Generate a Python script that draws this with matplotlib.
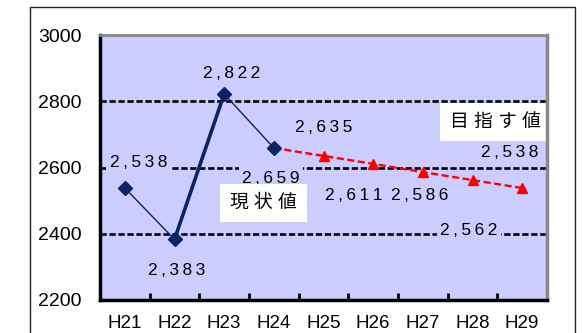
import numpy as np
import matplotlib.pyplot as plt
from matplotlib.patches import Rectangle

plt.rcParams['font.family'] = ['Liberation Sans', 'Noto Sans CJK JP', 'DejaVu Sans']

years = ['H21', 'H22', 'H23', 'H24', 'H25', 'H26', 'H27', 'H28', 'H29']
actual = [2538, 2383, 2822, 2659]
target_years = ['H24', 'H25', 'H26', 'H27', 'H28', 'H29']
target = [2659, 2635, 2611, 2586, 2562, 2538]
seg_widths = [1.0, 2.6, 1.0]

navy = '#0A2463'
bg = '#CCCCFF'


def spaced(v):
    # wide letter spacing like the original label font
    return '\u2009'.join(f'{v:,}')


fig = plt.figure(figsize=(5.82, 3.33), dpi=100)
fig.patches.append(Rectangle((30/582, -0.1), 545/582, 1.1 - 7/333, transform=fig.transFigure,
                             fill=False, edgecolor='#222222', lw=1.0))
ax = fig.add_axes([100/582, 1 - 300/333, 447/582, 265/333])
ax.set_facecolor(bg)

xi = {y: i + 0.5 for i, y in enumerate(years)}
ax.set_xlim(0, len(years))
ax.set_ylim(2200, 3000)

for g in [2400, 2600, 2800]:
    ax.axhline(g, color='black', lw=1.9, ls=(0, (2.4, 1.0)), zorder=1)

# actual values, segment by segment (different line weights)
ax_x = [xi[y] for y in years[:len(actual)]]
for k in range(len(actual) - 1):
    ax.plot(ax_x[k:k + 2], actual[k:k + 2], color=navy, lw=seg_widths[k], zorder=4)
ax.plot(ax_x, actual, ls='none', marker='D', ms=7.5, color=navy, zorder=5)

tx = [xi[y] for y in target_years]
ax.plot(tx, target, color='red', lw=1.7, ls=(0, (3, 1.5)), marker='^', ms=7.5,
        markevery=slice(1, None), zorder=3)

# data labels
lab_pos = {
    'H21': (0.77, 2614), 'H22': (1.55, 2288), 'H23': (2.66, 2885), 'H24': (3.44, 2568),
}
tlab_pos = {
    'H25': (4.51, 2722), 'H26': (5.11, 2514), 'H27': (6.44, 2514),
    'H28': (7.43, 2411), 'H29': (8.25, 2644),
}
for y, v in zip(years, actual):
    px, py = lab_pos[y]
    ax.text(px, py, spaced(v), ha='center', va='center', fontsize=12.5, zorder=2,
            bbox=dict(boxstyle='square,pad=0.2', fc=bg, ec='none'))
for y, v in zip(target_years[1:], target[1:]):
    px, py = tlab_pos[y]
    ax.text(px, py, spaced(v), ha='center', va='center', fontsize=12.5, zorder=2,
            bbox=dict(boxstyle='square,pad=0.2', fc=bg, ec='none'))

ax.text(7.96, 2737, '目 指 す 値', ha='center', va='center', fontsize=13.5, zorder=2,
        bbox=dict(boxstyle='square,pad=0.55', fc='white', ec='none'))
ax.text(3.29, 2493, '現 状 値', ha='center', va='center', fontsize=13.5, zorder=2,
        bbox=dict(boxstyle='square,pad=0.55', fc='white', ec='none'))

ax.set_xticks([xi[y] for y in years])
ax.set_xticklabels(years)
ax.set_xticks(np.arange(1, len(years) + 1), minor=True)
ax.tick_params(axis='x', which='major', length=0, pad=11, labelsize=13.5)
ax.tick_params(axis='x', which='minor', direction='in', length=5, width=2, color='black')
ax.set_yticks([2200, 2400, 2600, 2800, 3000])
ax.tick_params(axis='y', length=0, pad=13, labelsize=14)

ax.spines['left'].set_linewidth(2.5)
ax.spines['bottom'].set_linewidth(2.5)
ax.spines['top'].set_color('#888888')
ax.spines['top'].set_linewidth(2)
ax.spines['right'].set_color('#888888')
ax.spines['right'].set_linewidth(2.5)

fig.savefig('out.png', dpi=100)
